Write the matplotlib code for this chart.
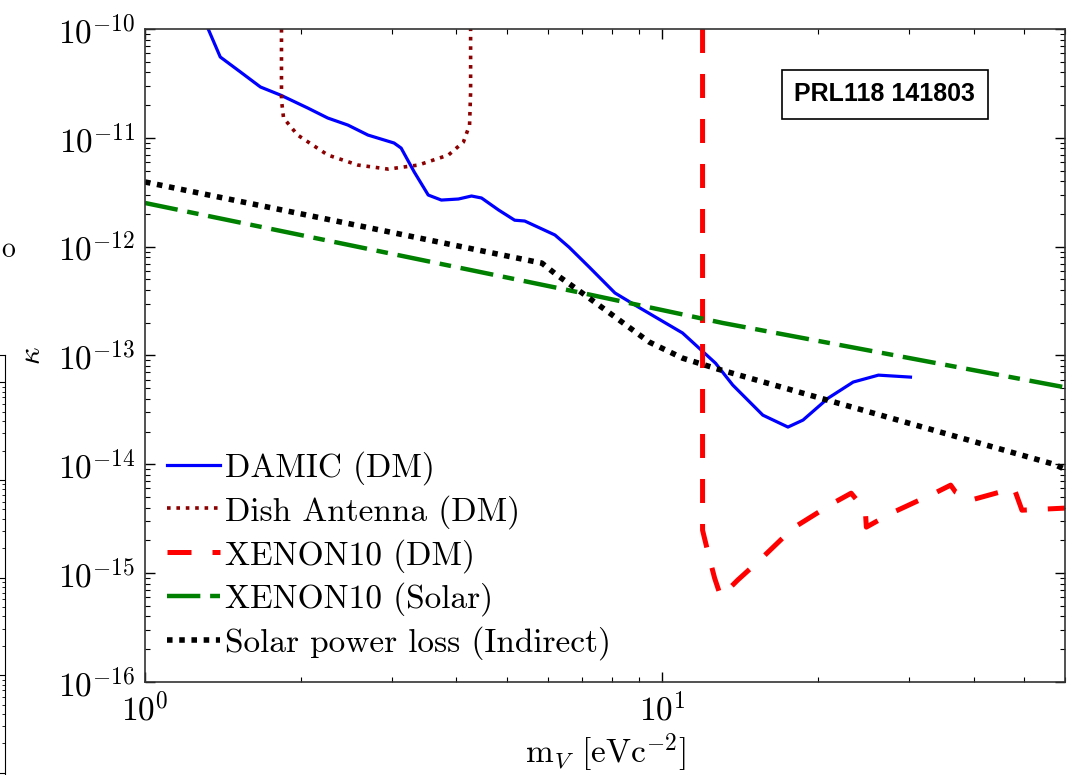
import numpy as np
import matplotlib
matplotlib.use('Agg')
import matplotlib.pyplot as plt
from matplotlib.ticker import LogLocator, FuncFormatter, NullFormatter

plt.rcParams['font.family'] = 'serif'
plt.rcParams['font.serif'] = ['cmr10']
plt.rcParams['mathtext.fontset'] = 'cm'
plt.rcParams['axes.unicode_minus'] = False

# DAMIC (DM)
damic_m = [1.325, 1.398, 1.529, 1.672, 1.828, 2.063, 2.256, 2.467, 2.698, 3.03,
           3.127, 3.315, 3.528, 3.74, 4.035, 4.277, 4.472, 4.826, 5.183, 5.42,
           6.2, 6.6, 7.22, 8.1, 8.86, 10.94, 12.67, 13.68, 15.64, 17.49,
           18.7, 20.92, 23.38, 26.16, 30.17]
damic_k = [1.0e-10, 5.53e-11, 4.03e-11, 2.93e-11, 2.47e-11, 1.88e-11, 1.52e-11, 1.31e-11, 1.06e-11, 8.96e-12,
           8.05e-12, 4.85e-12, 2.98e-12, 2.68e-12, 2.74e-12, 2.92e-12, 2.80e-12, 2.17e-12, 1.75e-12, 1.72e-12,
           1.28e-12, 9.9e-13, 6.5e-13, 3.75e-13, 2.9e-13, 1.61e-13, 8.5e-14, 5.35e-14, 2.83e-14, 2.2e-14,
           2.55e-14, 4.06e-14, 5.7e-14, 6.6e-14, 6.33e-14]

# Dish Antenna (DM)
dish_m = [1.836, 1.836, 1.853, 1.973, 2.256, 2.58, 2.951, 3.375, 3.86, 4.126, 4.24, 4.26, 4.26]
dish_k = [1.0e-10, 2.22e-11, 1.52e-11, 1.06e-11, 6.95e-12, 5.62e-12, 5.16e-12, 5.62e-12, 6.95e-12,
          9.15e-12, 1.31e-11, 2.64e-11, 1.0e-10]

# XENON10 (DM)
xdm_m = [11.96, 11.96, 12.29, 12.62, 12.96, 13.37, 13.98, 15.43, 17.88, 21.38, 23.17, 24.68, 24.79,
         27.71, 33.89, 36.08, 36.9, 39.46, 47.83, 49.55, 60.0]
xdm_k = [1.0e-10, 2.48e-15, 1.46e-15, 9.0e-16, 6.15e-16, 6.98e-16, 8.63e-16, 1.32e-15, 2.59e-15, 4.4e-15,
         5.43e-15, 3.79e-15, 2.65e-15, 3.56e-15, 5.55e-15, 6.44e-15, 5.55e-15, 4.69e-15, 6.04e-15,
         3.79e-15, 3.96e-15]

# XENON10 (Solar)
xsol_m = [1.0, 7.0, 13.08, 60.0]
xsol_k = [2.52e-12, 3.75e-13, 1.99e-13, 5.1e-14]

# Solar power loss (Indirect)
spl_m = [1.0, 5.85, 6.25, 7.0, 8.11, 9.43, 10.94, 12.8, 57.2, 60.0]
spl_k = [3.93e-12, 7.06e-13, 5.5e-13, 3.75e-13, 2.25e-13, 1.33e-13, 9.46e-14, 7.5e-14, 1.0e-14, 9.0e-15]

fig = plt.figure(figsize=(10.73, 7.75), dpi=100)
ax = fig.add_axes([0.1351, 0.12, 0.8574, 0.8426])

ax.plot(damic_m, damic_k, color='#0000ff', lw=2.3, label='DAMIC (DM)')
ax.plot(dish_m, dish_k, color='#8b0000', lw=2.6, linestyle=(0, (1, 1.6)), label='Dish Antenna (DM)')
ax.plot(xdm_m, xdm_k, color='#ff0000', lw=3.6, linestyle=(0, (4.8, 4.2)), label='XENON10 (DM)')
ax.plot(xsol_m, xsol_k, color='#008000', lw=3.2, linestyle=(0, (7.5, 2.2, 2.6, 2.2)), label='XENON10 (Solar)')
ax.plot(spl_m, spl_k, color='black', lw=4.0, linestyle=(0, (1, 1.2)), label='Solar power loss (Indirect)')

ax.set_xscale('log')
ax.set_yscale('log')
ax.set_xlim(1, 60)
ax.set_ylim(1e-16, 1e-10)

fmt = FuncFormatter(lambda v, p: r'$10^{%d}$' % int(round(np.log10(v))))
ax.xaxis.set_major_locator(LogLocator(base=10, numticks=10))
ax.yaxis.set_major_locator(LogLocator(base=10, numticks=10))
ax.xaxis.set_major_formatter(fmt)
ax.yaxis.set_major_formatter(fmt)
ax.xaxis.set_minor_locator(LogLocator(base=10, subs=np.arange(2, 10), numticks=20))
ax.yaxis.set_minor_locator(LogLocator(base=10, subs=np.arange(2, 10), numticks=20))
ax.xaxis.set_minor_formatter(NullFormatter())
ax.yaxis.set_minor_formatter(NullFormatter())
ax.tick_params(which='both', direction='in', top=True, right=True, labelsize=24)
ax.tick_params(which='major', length=7, width=1.0, pad=7)
ax.tick_params(which='minor', length=3.5, width=0.8)
for s in ax.spines.values():
    s.set_linewidth(1.2)
    s.set_color('#333333')

ax.set_xlabel(r'm$_V$ [eVc$^{-2}$]', fontsize=24, labelpad=4)
ax.set_ylabel(r'$\kappa$', fontsize=22, rotation=90, labelpad=8)

ax.text(0.804, 0.900, 'PRL118 141803', transform=ax.transAxes, ha='center', va='center',
        fontsize=18, fontweight='bold', family='Liberation Sans',
        bbox=dict(boxstyle='square,pad=0.5', fc='white', ec='black', lw=1.2))

ax.legend(loc='lower left', bbox_to_anchor=(0.0, 0.0), frameon=False, fontsize=24,
          handlelength=1.6, handletextpad=0.15, labelspacing=0.3, borderaxespad=0.35, borderpad=0.3)

# neighbouring panel edge on the left
fig.text(0.0075, 0.677, 'o', fontsize=20, ha='center', va='center')
ax2 = fig.add_axes([-0.5, -0.05, 0.5047, 0.592])
ax2.set_yscale('log')
ax2.set_ylim(10 ** -4.42, 10 ** 0.28)
ax2.set_xlim(0, 1)
ax2.xaxis.set_visible(False)
ax2.yaxis.set_major_formatter(NullFormatter())
ax2.yaxis.set_minor_formatter(NullFormatter())
ax2.tick_params(which='both', direction='in', left=False, right=True, labelleft=False,
                labelright=False)
ax2.tick_params(which='major', length=5)
ax2.tick_params(which='minor', length=2.5)
ax2.spines['left'].set_visible(False)
ax2.spines['bottom'].set_visible(False)

fig.savefig('out.png', dpi=100)
